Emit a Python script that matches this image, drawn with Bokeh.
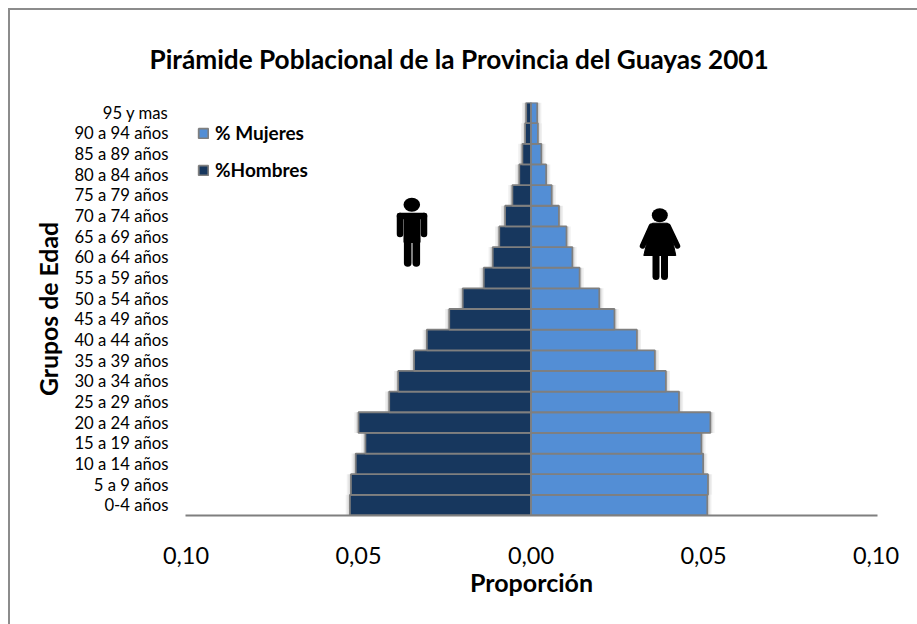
from bokeh.plotting import figure
from bokeh.embed import file_html
from bokeh.resources import INLINE
from bokeh.models import (FactorRange, Range1d, FixedTicker, Legend, LegendItem,
                          ColumnDataSource, Title)
from bokeh.transform import dodge

FONT = "Lato"
GRAY = "#7f7f7f"

grupos = ["0-4 años", "5 a 9 años", "10 a 14 años", "15 a 19 años", "20 a 24 años",
          "25 a 29 años", "30 a 34 años", "35 a 39 años", "40 a 44 años", "45 a 49 años",
          "50 a 54 años", "55 a 59 años", "60 a 64 años", "65 a 69 años", "70 a 74 años",
          "75 a 79 años", "80 a 84 años", "85 a 89 años", "90 a 94 años", "95 y mas"]
hombres = [-0.0525, -0.0522, -0.0508, -0.0480, -0.0500, -0.0411, -0.0385, -0.0339, -0.0302, -0.0237,
           -0.0198, -0.0137, -0.0111, -0.0092, -0.0075, -0.0054, -0.0034, -0.0025, -0.0017, -0.0014]
mujeres = [0.0511, 0.0513, 0.0499, 0.0494, 0.0520, 0.0429, 0.0391, 0.0359, 0.0307, 0.0242,
           0.0198, 0.0141, 0.0120, 0.0103, 0.0081, 0.0060, 0.0044, 0.0030, 0.0020, 0.0018]
x_ticks = [-0.10, -0.05, 0.0, 0.05, 0.10]
x_tick_labels = ["0,10", "0,05", "0,00", "0,05", "0,10"]

source = ColumnDataSource(dict(g=grupos, h=hombres, m=mujeres))

p = figure(width=907, height=614, output_backend="svg", toolbar_location=None,
           x_range=Range1d(-345.5 / 3450, 346.5 / 3450),
           y_range=FactorRange(factors=grupos, factor_padding=0, range_padding=0),
           x_axis_location="below", min_border_left=175, min_border_right=42,
           min_border_top=92, min_border_bottom=111,
           background_fill_color="white", border_fill_color="white",
           outline_line_color=None)
p.margin = (8, 0, 0, 8)
p.styles = {"border-top": "2px solid #8c8c8c", "border-left": "2px solid #8c8c8c",
            "box-sizing": "content-box"}
p.grid.visible = False

# page-pixel range for the pictograms (x); y is converted to factor space
p.extra_x_ranges["px"] = Range1d(185, 877)


def Y(py):
    return (515 - py) / 20.65


# title
p.title.text = "Pirámide Poblacional de la Provincia del Guayas 2001"
p.title.text_font = FONT
p.title.text_font_size = "26.2px"
p.title.text_font_style = "bold"
p.title.text_color = "#000000"
p.title.align = "left"
p.title.offset = -36
p.add_layout(Title(text=" ", text_font_size="9.5px"), "above")

# soft shadow
for d, a in ((0.0012, 0.06), (0.0007, 0.08)):
    p.hbar(y="g", left=0, right=dodge("m", d), height=1, source=source,
           fill_color="black", fill_alpha=a, line_color=None)
    p.hbar(y="g", left=dodge("h", -d), right=0, height=1, source=source,
           fill_color="black", fill_alpha=a, line_color=None)

rh = p.hbar(y="g", left="h", right=0, height=1, source=source,
            fill_color="#17375e", line_color=GRAY, line_width=1.8)
rm = p.hbar(y="g", left=0, right="m", height=1, source=source,
            fill_color="#538ed5", line_color=GRAY, line_width=1.8)

legend = Legend(items=[LegendItem(label="% Mujeres", renderers=[rm]),
                       LegendItem(label="%Hombres", renderers=[rh])],
                location=(12, 334), background_fill_alpha=0, border_line_color=None,
                label_text_font=FONT, label_text_font_style="bold",
                label_text_font_size="19px", label_text_color="#000000",
                glyph_width=12, glyph_height=12, label_standoff=6,
                spacing=14, margin=0, padding=0, label_height=23)
p.add_layout(legend)

# axes
xa = p.xaxis[0]
xa.ticker = FixedTicker(ticks=x_ticks)
xa.major_label_overrides = dict(zip(x_ticks, x_tick_labels))
xa.major_tick_line_color = None
xa.major_tick_out = 0
xa.minor_tick_line_color = None
xa.axis_line_color = GRAY
xa.axis_line_width = 2
xa.major_label_text_font = FONT
xa.major_label_text_font_size = "23.5px"
xa.major_label_text_color = "#000000"
xa.major_label_standoff = 31
xa.axis_label = "Proporción"
xa.axis_label_text_font = FONT
xa.axis_label_text_font_size = "25px"
xa.axis_label_text_font_style = "bold"
xa.axis_label_text_color = "#000000"
xa.axis_label_standoff = 0

ya = p.yaxis[0]
ya.axis_line_color = None
ya.major_tick_line_color = None
ya.major_tick_out = 0
ya.minor_tick_line_color = None
ya.major_label_text_font = FONT
ya.major_label_text_font_size = "16.7px"
ya.major_label_text_color = "#000000"
ya.major_label_standoff = 17
ya.axis_label = "Grupos de Edad"
ya.axis_label_text_font = FONT
ya.axis_label_text_font_size = "24.8px"
ya.axis_label_text_font_style = "bold"
ya.axis_label_text_color = "#000000"
ya.axis_label_standoff = 8


def seg(xs, ys, w):
    p.line(xs, [Y(v) for v in ys], line_width=w, line_color="black", line_cap="round",
           line_join="round", x_range_name="px")


def poly(xs, ys):
    p.patch(xs, [Y(v) for v in ys], fill_color="black", line_color="black", line_width=1,
            x_range_name="px")


def head(x, y, rx, ry):
    p.ellipse([x], [Y(y)], width=2 * rx, height=2 * ry, width_units="screen", height_units="screen",
              fill_color="black", line_color=None, x_range_name="px")


# man
head(411.3, 204.3, 8.3, 7)
seg([399.5, 423.5], [215.5, 215.5], 6.5)
seg([399.5, 399.5], [215.5, 233.5], 6.5)
seg([423.5, 423.5], [215.5, 233.5], 6.5)
poly([403.5, 419.5, 419.5, 403.5], [213, 213, 242, 242])
seg([407.2, 407.2], [238, 262.5], 7.6)
seg([415.8, 415.8], [238, 262.5], 7.6)

# woman
head(659.3, 214.7, 8, 7)
poly([652, 667, 671, 675.3, 643.3, 648], [222.7, 222.7, 235, 255, 255, 235])
seg([651, 642], [225.5, 245.5], 5.5)
seg([667.5, 677], [225.5, 245.5], 5.5)
seg([655.5, 655.5], [253, 276], 7)
seg([664, 664], [253, 276], 7)

open("out.html", "w").write(file_html(p, INLINE))
